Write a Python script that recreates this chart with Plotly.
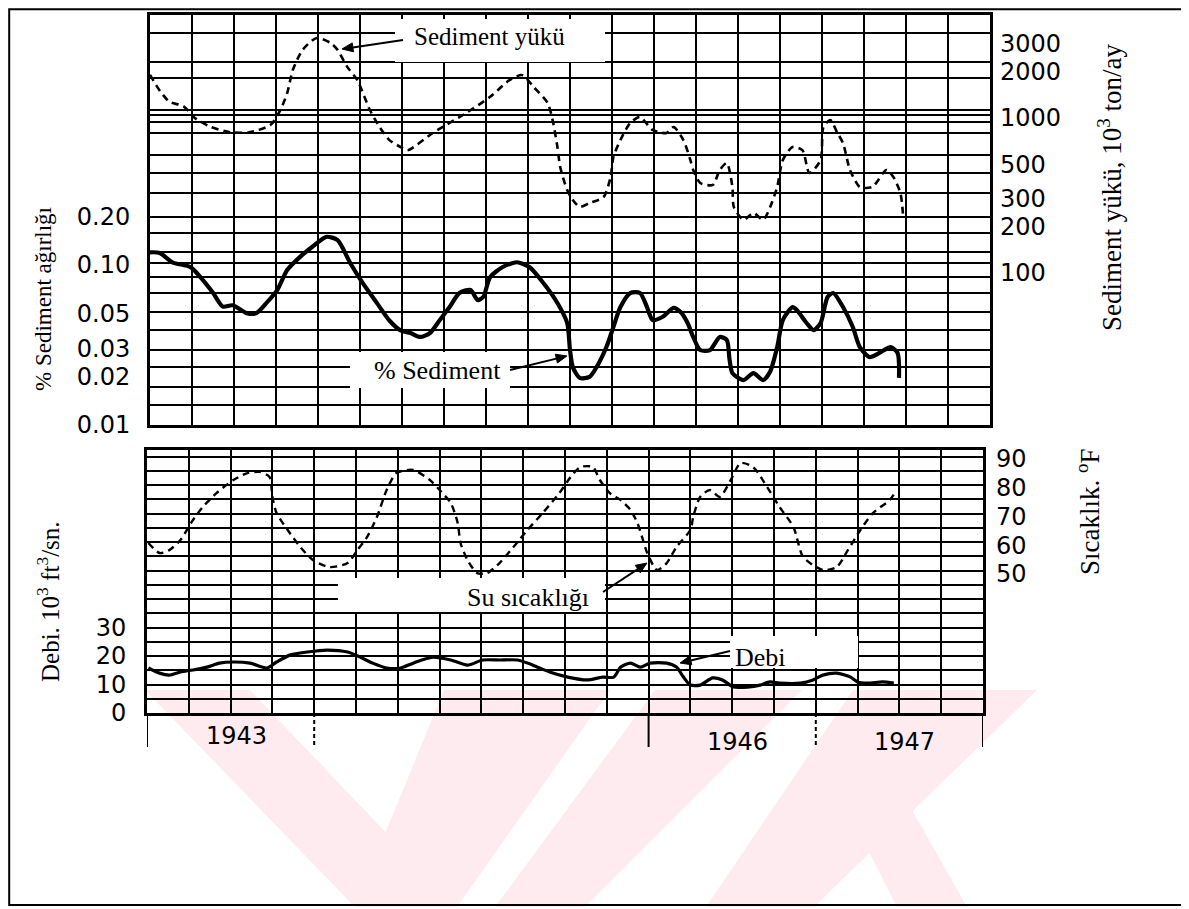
import math
import plotly.graph_objects as go

# ---------------- data ----------------
# x values are months counted from the start of 1943
load_month = [0.0, 0.7, 1.4, 2.4, 3.2, 4.3, 5.7, 7.1, 8.6, 9.3, 9.8, 10.2, 10.9, 11.9, 12.9, 13.4,
              14.1, 14.8, 15.7, 16.4, 17.1, 17.9, 18.4, 20.2, 22.6, 24.3, 25.7, 26.6, 27.4, 28.4,
              28.8, 29.1, 29.3, 29.8, 30.2, 30.7, 31.4, 32.4, 32.9, 33.1, 33.6, 34.3, 35.0, 35.9,
              36.9, 37.4, 38.1, 38.6, 38.8, 39.3, 40.2, 40.7, 41.2, 41.6, 41.7, 42.4, 43.1, 43.8,
              44.3, 44.8, 45.2, 45.9, 46.6, 47.1, 47.9, 48.1, 48.6, 49.1, 49.5, 50.0, 50.7, 51.6,
              52.6, 53.1, 53.6, 53.8]
load_vals = [1900, 1500, 1270, 1190, 1000, 880, 810, 810, 900, 1120, 1450, 2040, 2750, 3280, 3050, 2750,
             2130, 1760, 1130, 875, 720, 650, 620, 800, 1080, 1370, 1760, 1890, 1585, 1250,
             930, 650, 483, 343, 296, 267, 283, 309, 416, 560, 720, 929, 1015, 837,
             800, 875, 720, 535, 462, 381, 370, 462, 513, 359, 267, 220, 244, 220,
             267, 359, 535, 650, 620, 442, 535, 875, 971, 800, 690, 462, 359, 359,
             462, 416, 328, 230]

pct_month = [0.0, 0.7, 1.6, 2.9, 3.6, 4.5, 5.2, 5.9, 6.9, 7.6, 8.4, 9.1, 9.8, 10.7, 11.6, 12.6,
             13.4, 14.3, 15.2, 16.2, 17.1, 17.9, 18.6, 19.3, 20.0, 20.7, 21.4, 22.1, 22.9, 23.4,
             23.8, 24.3, 25.2, 26.2, 27.1, 28.1, 29.1, 29.8, 30.0, 30.2, 30.7, 31.4, 31.9, 32.6,
             33.1, 33.6, 34.3, 35.0, 35.5, 35.9, 36.6, 37.4, 37.9, 38.4, 38.8, 39.3, 40.0, 40.7,
             41.2, 41.4, 41.6, 42.4, 43.1, 43.8, 44.3, 44.8, 45.2, 45.9, 46.2, 46.9, 47.4, 47.9,
             48.4, 48.8, 49.5, 50.2, 50.7, 51.4, 52.1, 52.9, 53.4, 53.5]
pct_vals = [0.120, 0.119, 0.104, 0.097, 0.084, 0.067, 0.055, 0.056, 0.050, 0.050, 0.059, 0.070, 0.093,
            0.112, 0.130, 0.150, 0.143, 0.103, 0.077, 0.058, 0.045, 0.039, 0.0376, 0.0355, 0.0376,
            0.0453, 0.0546, 0.0668, 0.0698, 0.0604, 0.0631, 0.0841, 0.0972, 0.104, 0.0972, 0.0772,
            0.0579, 0.0434, 0.0294, 0.0230, 0.0197, 0.0200, 0.0230, 0.0307, 0.041, 0.0546, 0.0668,
            0.0668, 0.0546, 0.0453, 0.0473, 0.0539, 0.0508, 0.0434, 0.0355, 0.0294, 0.0294, 0.0355,
            0.034, 0.0255, 0.0211, 0.0191, 0.0211, 0.0191, 0.0216, 0.0307, 0.0453, 0.0546, 0.0523,
            0.0434, 0.0392, 0.0434, 0.0631, 0.0668, 0.0546, 0.041, 0.0307, 0.0266, 0.0282, 0.0307,
            0.0282, 0.0197]

temp_month = [0.1, 0.9, 1.6, 2.4, 3.3, 4.0, 5.0, 6.2, 7.2, 8.1, 8.8, 9.0, 9.3, 10.1, 11.0, 11.9,
              13.1, 14.4, 15.1, 15.8, 16.5, 17.2, 17.9, 19.1, 20.3, 21.0, 21.8, 22.3, 22.5, 23.0,
              23.7, 24.4, 25.3, 26.3, 27.3, 28.4, 29.6, 30.4, 31.1, 32.0, 32.5, 33.2, 34.0, 34.7,
              35.2, 35.6, 35.9, 36.6, 37.3, 38.0, 39.0, 39.2, 39.7, 40.4, 41.1, 41.9, 42.6, 43.5,
              44.5, 45.4, 46.4, 47.1, 48.5, 49.5, 50.3, 51.2, 52.1, 53.3, 53.8]
temp_vals = [60.8, 57.3, 58.3, 61.8, 68.8, 73.3, 78.2, 82.7, 85.1, 85.5, 83.7, 76.8, 71.2, 65.3, 59.4, 54.9,
             52.4, 53.8, 58.3, 62.9, 69.8, 79.2, 85.1, 86.2, 82.7, 79.2, 74.7, 67.7, 60.8, 54.9,
             50.3, 50.3, 53.8, 59.4, 65.3, 71.2, 78.2, 83.7, 87.2, 87.2, 82.7, 78.2, 75.7, 72.3,
             67.7, 61.8, 57.3, 51.4, 53.8, 59.4, 65.3, 69.8, 76.8, 79.2, 76.8, 82.7, 88.6, 87.2,
             80.3, 73.3, 66.3, 55.9, 51.4, 52.4, 58.3, 65.3, 71.2, 75.7, 79.2]

debi_month = [0.1, 0.9, 1.6, 2.4, 3.3, 4.3, 5.2, 6.2, 7.4, 8.6, 9.3, 10.3, 11.5, 12.9, 14.4, 15.3,
              16.2, 17.2, 18.2, 19.1, 20.5, 21.8, 23.0, 24.1, 25.3, 26.6, 27.7, 28.9, 30.2, 31.6,
              32.7, 33.5, 34.0, 34.7, 35.4, 36.1, 37.3, 38.0, 38.5, 39.0, 39.7, 40.6, 41.3, 42.1,
              43.1, 44.0, 44.7, 45.4, 46.9, 47.8, 48.5, 49.5, 50.5, 51.0, 51.7, 52.8, 53.6]
debi_vals = [15.8, 14.0, 13.3, 14.4, 15.1, 16.1, 17.5, 17.9, 17.5, 15.8, 17.9, 20.4, 21.4, 22.1, 21.4, 19.6,
             17.5, 15.8, 15.8, 17.5, 19.6, 18.6, 16.8, 18.6, 18.6, 18.6, 16.8, 14.4, 12.6, 11.6,
             12.6, 12.6, 16.1, 17.5, 16.1, 17.5, 17.5, 16.1, 12.6, 9.8, 9.8, 12.3, 11.6, 9.1,
             9.1, 9.8, 10.9, 10.5, 10.5, 11.6, 13.3, 14.0, 12.6, 10.9, 10.5, 10.9, 10.5]

# axis ticks / labels
pct_ticks = [0.01, 0.02, 0.03, 0.05, 0.10, 0.20]
pct_labels = ["0.01", "0.02", "0.03", "0.05", "0.10", "0.20"]
load_ticks = [100, 200, 300, 500, 1000, 2000, 3000]
load_labels = ["100", "200", "300", "500", "1000", "2000", "3000"]
debi_ticks = [0, 10, 20, 30]
temp_ticks = [50, 60, 70, 80, 90]
year_labels = ["1943", "1946", "1947"]
year_bounds = [0, 12, 36, 48, 60]
# graph-paper rulings
top_grid = [0.0133, 0.0173, 0.023, 0.0294, 0.0392, 0.0508, 0.0668, 0.0841, 0.103, 0.1206, 0.158,
            0.20, 0.282, 0.376, 0.487, 0.668, 0.783, 0.866, 0.931, 1.475, 1.86, 2.82]
month_grid = list(range(0, 61, 3))
debi_grid = list(range(0, 91, 5))

# ---------------- layout helpers ----------------
# the page body keeps the browser's 8 px margin, so the figure starts 8 px in
W, H = 1189, 909
OFF = 8
def px(x):
    return (x - OFF) / W
def py(y):
    return 1 - (y - OFF) / H

SERIF = "Liberation Serif"
SANS = "DejaVu Sans"
TICKFONT = dict(family=SANS, size=24, color="black")

fig = go.Figure()

fig.add_trace(go.Scatter(x=load_month, y=load_vals, xaxis="x", yaxis="y2", mode="lines",
                         line=dict(color="black", width=2.6, dash="7px,5px", shape="spline", smoothing=0.7),
                         hoverinfo="skip", showlegend=False))
fig.add_trace(go.Scatter(x=pct_month, y=pct_vals, xaxis="x", yaxis="y", mode="lines",
                         line=dict(color="black", width=4.2, shape="spline", smoothing=0.7),
                         hoverinfo="skip", showlegend=False))
fig.add_trace(go.Scatter(x=temp_month, y=temp_vals, xaxis="x2", yaxis="y4", mode="lines",
                         line=dict(color="black", width=2.4, dash="7px,5px", shape="spline", smoothing=0.7),
                         hoverinfo="skip", showlegend=False))
fig.add_trace(go.Scatter(x=debi_month, y=debi_vals, xaxis="x2", yaxis="y3", mode="lines",
                         line=dict(color="black", width=3.2, shape="spline", smoothing=0.7),
                         hoverinfo="skip", showlegend=False))
# empty traces so the grid-only axes own a subplot
fig.add_trace(go.Scatter(x=[], y=[], xaxis="x", yaxis="y5", hoverinfo="skip", showlegend=False))
fig.add_trace(go.Scatter(x=[], y=[], xaxis="x2", yaxis="y6", hoverinfo="skip", showlegend=False))

TOP_X = [px(150), px(990)]
TOP_Y = [py(425), py(15)]
BOT_X = [px(147), px(983)]
BOT_Y = [py(713), py(450)]

grid = dict(showgrid=True, gridcolor="black", gridwidth=2)
frame = dict(showline=True, mirror=True, linecolor="black", linewidth=3)
noauto = dict(automargin=False)

fig.update_layout(
    width=W, height=H,
    margin=dict(l=0, r=0, t=0, b=0, autoexpand=False),
    paper_bgcolor="white", plot_bgcolor="rgba(0,0,0,0)",
    showlegend=False,
    xaxis=dict(domain=TOP_X, range=[0, 60], anchor="y", tickvals=month_grid, showticklabels=False,
               ticks="", zeroline=False, **grid, **frame, **noauto),
    yaxis=dict(domain=TOP_Y, type="log", range=[-2, 0.5625], anchor="x", tickvals=pct_ticks,
               ticktext=pct_labels, ticks="", ticklabelstandoff=12, tickfont=TICKFONT,
               showgrid=False, zeroline=False, **frame, **noauto),
    yaxis2=dict(overlaying="y", side="right", anchor="x", type="log", range=[1.0194, 3.6645],
                tickvals=load_ticks, ticktext=load_labels, ticks="", ticklabelstandoff=9,
                tickfont=TICKFONT, showgrid=False, zeroline=False, showline=False, **noauto),
    yaxis5=dict(overlaying="y", anchor="x", type="log", range=[-2, 0.5625], tickvals=top_grid,
                showticklabels=False, ticks="", zeroline=False, showline=False, **grid, **noauto),
    xaxis2=dict(domain=BOT_X, range=[0, 60], anchor="y3", tickvals=month_grid, showticklabels=False,
                ticks="", zeroline=False, **grid, **frame, **noauto),
    yaxis3=dict(domain=BOT_Y, range=[0, 92.3], anchor="x2", tickvals=debi_ticks,
                ticks="", ticklabelstandoff=13, tickfont=TICKFONT, showgrid=False, zeroline=False,
                **frame, **noauto),
    yaxis4=dict(overlaying="y3", side="right", anchor="x2", range=[1.65, 93.13], tickvals=temp_ticks,
                ticks="", ticklabelstandoff=12, tickfont=TICKFONT, showgrid=False, zeroline=False,
                showline=False, **noauto),
    yaxis6=dict(overlaying="y3", anchor="x2", range=[0, 92.3], tickvals=debi_grid, showticklabels=False,
                ticks="", zeroline=False, showline=False, **grid, **noauto),
)

shapes = []
# faint pink watermark in the lower part of the page
pink = "#fdebef"
water = [
    [(145, 690), (250, 690), (457, 907), (355, 907)],
    [(444, 690), (610, 690), (457, 907), (355, 907)],
    [(655, 690), (802, 690), (585, 907), (495, 907)],
    [(853, 690), (1037, 690), (814, 907), (706, 907)],
    [(850, 815), (895, 780), (967, 907), (897, 907)],
]
for poly in water:
    path = "M " + " L ".join(f"{px(a):.4f},{py(b):.4f}" for a, b in poly) + " Z"
    shapes.append(dict(type="path", xref="paper", yref="paper", path=path, fillcolor=pink,
                       line=dict(width=0), layer="below"))
# outer frame (kept just inside the figure's own edge)
shapes.append(dict(type="rect", xref="paper", yref="paper", x0=px(9.2), x1=px(1183), y0=py(905), y1=py(9.2),
                   line=dict(color="black", width=2), layer="above"))
# white patches where the rulings are erased behind the labels
for (a, b, c, d) in [(395, 19, 605, 62), (350, 352, 510, 388), (338, 578, 605, 612), (730, 636, 858, 668)]:
    shapes.append(dict(type="rect", xref="paper", yref="paper", x0=px(a), x1=px(c), y0=py(d), y1=py(b),
                       fillcolor="white", line=dict(width=0), layer="above"))
# year boundary ticks under the lower panel
for m in year_bounds:
    dashed = m in (12, 48)
    shapes.append(dict(type="line", xref="x2", yref="paper", x0=m, x1=m, y0=py(713), y1=py(747),
                       line=dict(color="black", width=2, dash="4px,3px" if dashed else "solid"), layer="above"))


def arrow(tail, tip, head=11, half=4.5):
    dx, dy = tip[0] - tail[0], tip[1] - tail[1]
    L = math.hypot(dx, dy)
    ux, uy = dx / L, dy / L
    nx, ny = -uy, ux
    bx, by = tip[0] - head * ux, tip[1] - head * uy
    shapes.append(dict(type="line", xref="paper", yref="paper", x0=px(tail[0]), y0=py(tail[1]),
                       x1=px(bx), y1=py(by), line=dict(color="black", width=2), layer="above"))
    pts = [tip, (bx + half * nx, by + half * ny), (bx - half * nx, by - half * ny)]
    path = "M " + " L ".join(f"{px(a):.4f},{py(b):.4f}" for a, b in pts) + " Z"
    shapes.append(dict(type="path", xref="paper", yref="paper", path=path, fillcolor="black",
                       line=dict(color="black", width=1), layer="above"))


arrow((403, 40), (342, 49))
arrow((510, 370), (567, 356))
arrow((603, 592), (647, 563))
arrow((730, 651), (680, 663))
fig.update_layout(shapes=shapes)

ann = []
def text(x, y, s, size=26, family=SERIF, angle=0):
    ann.append(dict(x=px(x), y=py(y), xref="paper", yref="paper", text=s, showarrow=False,
                    font=dict(family=family, size=size, color="black"), textangle=angle,
                    xanchor="center", yanchor="middle"))

text(489, 37, "Sediment yükü", 25)
text(437, 370, "% Sediment", 26)
text(528, 597, "Su sıcaklığı", 26)
text(760, 657, "Debi", 26)

text(43, 299, "% Sediment ağırlığı", 23, angle=-90)
text(48, 602, "Debi. 10<sup>3</sup> ft<sup>3</sup>/sn.", 25, angle=-90)
text(1110, 188, "Sediment yükü, 10<sup>3</sup> ton/ay", 27, angle=-90)
text(1088, 512, "Sıcaklık. <sup>o</sup>F", 27, angle=-90)

for lab, x, y in zip(year_labels, [236, 737, 904], [736, 742, 742]):
    text(x, y, lab, 24, family=SANS)

fig.update_layout(annotations=ann)

fig.write_html("out.html", config={"displayModeBar": False})
